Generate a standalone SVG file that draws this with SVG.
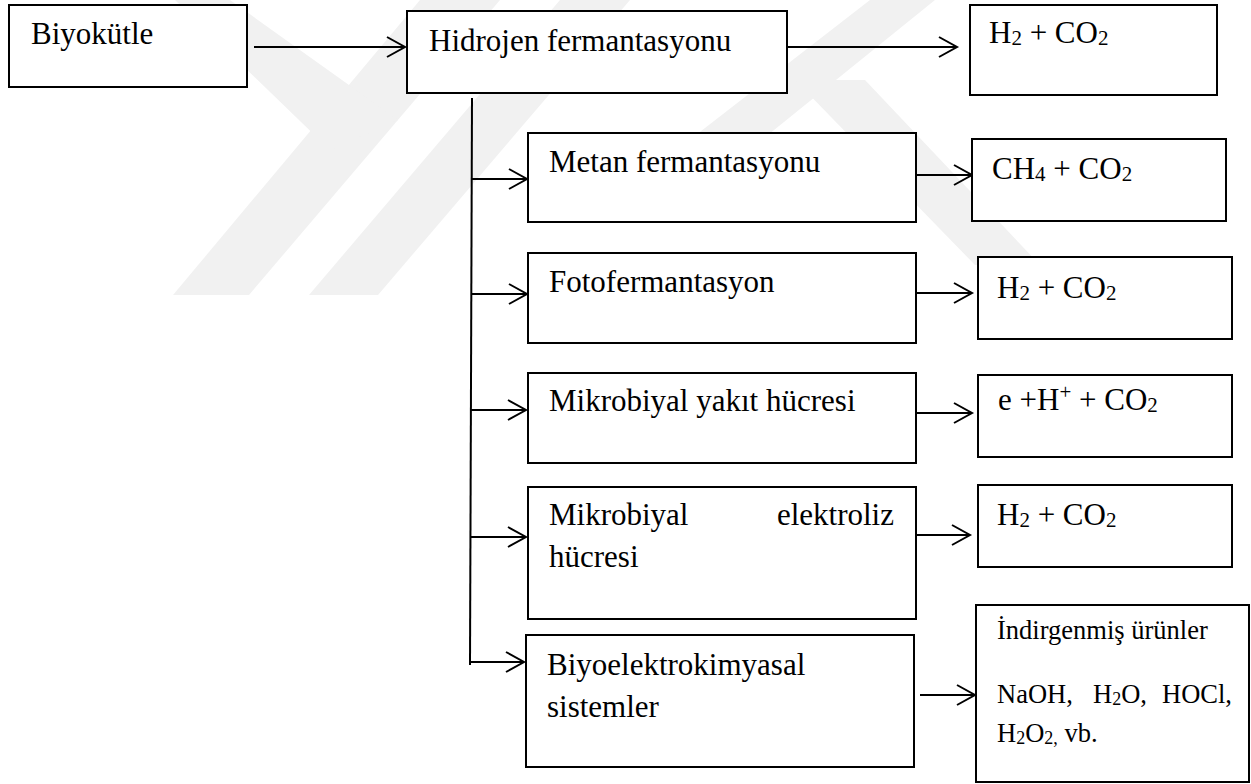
<svg xmlns="http://www.w3.org/2000/svg" width="1251" height="784" viewBox="0 0 1251 784">
<style>
.box{fill:#fff;stroke:#000;stroke-width:2}
.t{font-family:"Liberation Serif","Times New Roman",serif;font-size:31px;fill:#000}
.s{font-size:26.5px}
.sub{font-size:21px}
.sub2{font-size:18px}
.c{fill:none;stroke:#000;stroke-width:2}
.wm{fill:#f1f1f1}
</style>
<g id="watermark">
<polygon class="wm" points="420,0 500,0 249,295 173,295"/>
<polygon class="wm" points="560,0 630,0 378,295 309,295"/>
<polygon class="wm" points="175,0 230,0 398,120 330,150"/>
<polygon class="wm" points="870,0 935,0 700,190 625,190"/>
<polygon class="wm" points="795,80 865,80 1040,265 975,265"/>
</g>
<g id="connectors">
<path class="c" d="M254,47H405M387,37L405,47L387,57"/>
<path class="c" d="M787,47H957M939,37L957,47L939,57"/>
<path class="c" d="M472,98L470,665"/>
<path class="c" d="M471,179H527M509,169L527,179L509,189"/>
<path class="c" d="M471,294H527M509,284L527,294L509,304"/>
<path class="c" d="M471,410H526M508,400L526,410L508,420"/>
<path class="c" d="M470,537H526M508,527L526,537L508,547"/>
<path class="c" d="M470,662H524M506,652L524,662L506,672"/>
<path class="c" d="M916,175H972M954,165L972,175L954,185"/>
<path class="c" d="M916,293H972M954,283L972,293L954,303"/>
<path class="c" d="M916,413H972M954,403L972,413L954,423"/>
<path class="c" d="M916,535H970M952,525L970,535L952,545"/>
<path class="c" d="M920,695H975M957,685L975,695L957,705"/>
</g>
<g id="biyokutle">
<rect class="box" x="9" y="5" width="238" height="82"/>
<text class="t" x="31" y="44">Biyokütle</text>
</g>
<g id="hidrojen">
<rect class="box" x="407" y="11" width="380" height="82"/>
<text class="t" x="429" y="51">Hidrojen fermantasyonu</text>
</g>
<g id="h2co2-1">
<rect class="box" x="970" y="5" width="247" height="90"/>
<text class="t" x="989" y="43">H<tspan class="sub" dy="2">2</tspan><tspan dy="-2"> + CO</tspan><tspan class="sub" dy="2">2</tspan></text>
</g>
<g id="metan">
<rect class="box" x="528" y="133" width="388" height="89"/>
<text class="t" x="549" y="172">Metan fermantasyonu</text>
</g>
<g id="ch4co2">
<rect class="box" x="972" y="139" width="254" height="82"/>
<text class="t" x="992" y="179">CH<tspan class="sub" dy="2">4</tspan><tspan dy="-2"> + CO</tspan><tspan class="sub" dy="2">2</tspan></text>
</g>
<g id="foto">
<rect class="box" x="528" y="253" width="388" height="90"/>
<text class="t" x="549" y="292">Fotofermantasyon</text>
</g>
<g id="h2co2-2">
<rect class="box" x="978" y="257" width="254" height="82"/>
<text class="t" x="997" y="298">H<tspan class="sub" dy="2">2</tspan><tspan dy="-2"> + CO</tspan><tspan class="sub" dy="2">2</tspan></text>
</g>
<g id="yakit">
<rect class="box" x="528" y="373" width="388" height="90"/>
<text class="t" x="549" y="411">Mikrobiyal yakıt hücresi</text>
</g>
<g id="ehco2">
<rect class="box" x="978" y="375" width="254" height="82"/>
<text class="t" x="998" y="410">e +H<tspan class="sub" dy="-11">+</tspan><tspan dy="11"> + CO</tspan><tspan class="sub" dy="2">2</tspan></text>
</g>
<g id="elektroliz">
<rect class="box" x="528" y="487" width="388" height="132"/>
<text class="t" x="549" y="525">Mikrobiyal</text>
<text class="t" x="894" y="525" text-anchor="end">elektroliz</text>
<text class="t" x="549" y="567">hücresi</text>
</g>
<g id="h2co2-3">
<rect class="box" x="978" y="485" width="254" height="82"/>
<text class="t" x="997" y="525">H<tspan class="sub" dy="2">2</tspan><tspan dy="-2"> + CO</tspan><tspan class="sub" dy="2">2</tspan></text>
</g>
<g id="biyoelektro">
<rect class="box" x="526" y="635" width="388" height="132"/>
<text class="t" x="547" y="675">Biyoelektrokimyasal</text>
<text class="t" x="547" y="717">sistemler</text>
</g>
<g id="indirgenmis">
<rect class="box" x="976" y="605" width="273" height="177"/>
<text class="t s" x="997" y="639">İndirgenmiş ürünler</text>
<text class="t s" x="997" y="703">NaOH,</text>
<text class="t s" x="1093" y="703">H<tspan class="sub2" dy="2">2</tspan><tspan dy="-2">O,</tspan></text>
<text class="t s" x="1232" y="703" text-anchor="end">HOCl,</text>
<text class="t s" x="997" y="742">H<tspan class="sub2" dy="2">2</tspan><tspan dy="-2">O</tspan><tspan class="sub2" dy="2">2,</tspan><tspan dy="-2"> vb.</tspan></text>
</g>
</svg>
